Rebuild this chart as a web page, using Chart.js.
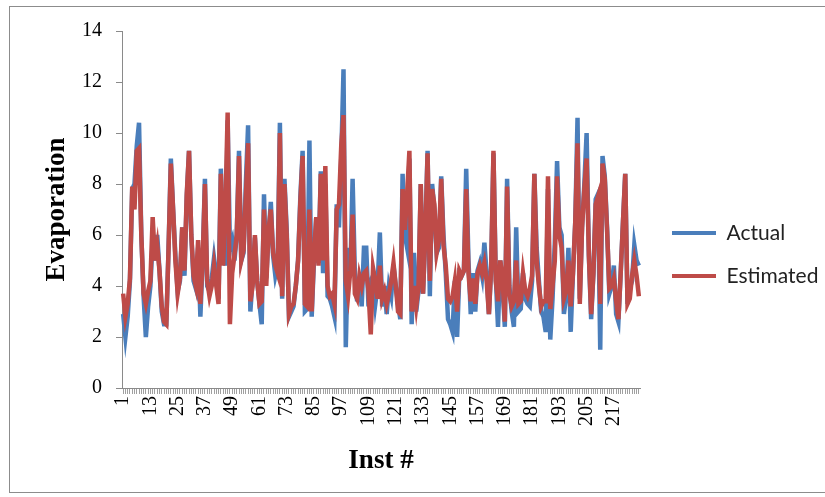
<!DOCTYPE html>
<html>
<head>
<meta charset="utf-8">
<script src="https://cdn.jsdelivr.net/npm/chart.js@4.4.1/dist/chart.umd.min.js"></script>
<style>
  html, body { margin: 0; padding: 0; background: #ffffff; }
  #wrap { position: relative; width: 825px; height: 497px; overflow: hidden; }
  #frame { position: absolute; left: 9px; top: 6px; width: 900px; height: 487px; border: 1.5px solid #8c8c8c; box-sizing: border-box; }
  #c { position: absolute; left: 0; top: 0; }
</style>
</head>
<body>
<div id="wrap">
  <div id="frame"></div>
  <canvas id="c" width="825" height="497"></canvas>
</div>
<script>
// ---- data ----
const seriesNames = ['Actual', 'Estimated'];
const categories = Array.from({ length: 228 }, (_, i) => String(i + 1));
const labelEvery = 12;
const yTicks = [0, 2, 4, 6, 8, 10, 12, 14];

const actual = [
  2.9,2.0,2.8,4.2,7.8,8.0,9.5,10.4,6.0,3.6,
  2.0,3.2,4.0,5.8,5.0,6.0,4.6,3.0,2.5,2.5,
  5.5,9.0,7.0,5.2,3.8,4.2,6.3,4.4,7.5,9.3,
  6.0,4.2,3.9,5.5,2.8,5.0,8.2,4.0,3.8,4.3,
  5.1,4.4,3.5,8.6,6.0,4.8,10.5,5.5,5.8,5.0,
  6.0,9.3,5.0,5.3,8.0,10.3,3.0,4.3,5.9,4.2,
  3.3,2.5,7.6,4.3,6.0,7.3,5.2,4.4,4.8,10.4,
  3.5,8.2,6.2,2.8,3.0,3.2,4.0,5.0,7.5,9.3,
  3.0,3.1,9.7,2.8,5.0,6.7,4.9,8.5,4.5,8.0,
  3.6,3.5,3.2,2.8,7.2,6.3,9.0,12.5,1.6,5.5,
  4.4,8.2,4.5,3.4,4.3,3.2,5.5,5.5,3.2,4.2,
  4.4,3.3,4.0,6.1,3.2,4.0,2.9,4.0,3.6,4.8,
  4.0,3.3,2.7,8.4,6.0,5.5,9.0,2.5,5.3,3.0,
  3.8,8.0,3.7,6.0,9.3,3.6,8.0,7.0,5.3,5.5,
  8.3,6.0,4.5,2.7,2.5,2.2,4.2,2.0,4.5,4.4,
  4.6,8.6,5.0,2.9,4.5,3.0,4.6,4.9,4.4,5.7,
  4.5,2.9,4.7,9.2,4.4,2.4,5.0,4.0,2.4,8.2,
  4.0,3.0,2.4,6.3,3.0,3.1,4.5,3.5,3.3,3.2,
  4.2,8.4,5.5,4.2,3.0,2.8,2.2,7.8,1.9,3.5,
  5.7,8.9,6.3,6.0,2.9,3.6,5.5,2.2,4.5,6.5,
  10.6,3.5,6.3,8.0,10.0,5.2,2.7,4.5,7.4,7.6,
  1.5,9.1,8.3,6.3,3.7,4.0,4.8,2.9,2.6,4.5,
  6.5,8.4,3.3,3.9,4.2,5.6,5.0,4.8
];

const estimated = [
  3.7,2.8,3.3,4.3,7.9,7.0,9.3,9.4,6.0,3.7,
  3.3,3.8,4.2,6.7,5.0,5.6,4.6,3.2,2.6,2.5,
  5.5,8.8,7.0,5.0,3.7,4.3,6.3,4.6,7.6,9.3,
  6.0,4.4,4.0,5.8,3.3,5.0,8.0,4.2,3.6,4.0,
  4.8,4.0,3.3,8.4,4.8,7.0,10.8,2.5,4.5,5.2,
  6.0,9.1,5.0,5.4,7.5,9.6,3.4,4.0,6.0,4.2,
  3.3,3.4,7.0,4.0,6.2,7.0,5.3,4.8,4.5,10.0,
  3.6,8.0,6.0,2.9,3.2,3.3,4.0,5.0,7.3,9.1,
  3.3,3.2,7.0,3.0,5.2,6.7,4.8,8.4,5.0,8.7,
  4.0,3.6,3.7,3.3,7.0,7.2,9.5,10.7,4.2,3.6,
  4.6,6.8,3.7,3.5,4.4,4.0,4.5,4.6,3.8,2.1,
  4.7,4.2,3.5,4.8,3.5,3.8,3.3,3.7,4.2,4.9,
  4.0,3.0,2.9,7.8,6.2,7.6,9.3,3.0,4.0,3.2,
  4.0,8.0,3.7,6.0,9.2,4.2,7.8,7.2,5.3,5.8,
  8.2,5.6,4.8,3.5,3.4,3.6,4.2,3.0,4.6,4.4,
  4.6,7.8,4.5,3.4,4.3,3.3,4.5,4.8,4.5,4.9,
  4.2,2.9,4.8,9.3,4.2,3.4,5.0,4.3,2.6,7.9,
  3.7,3.2,3.4,5.0,3.3,3.4,4.5,3.8,3.6,3.9,
  4.4,8.4,5.0,4.0,3.2,3.4,3.4,8.3,3.1,4.0,
  5.0,8.3,6.0,5.5,3.5,3.8,5.0,3.2,4.5,6.5,
  9.6,3.3,6.3,7.8,9.0,5.2,2.9,4.5,7.2,7.5,
  3.3,8.8,8.2,6.2,3.9,4.0,4.3,3.4,2.7,4.5,
  6.5,8.4,3.3,3.5,4.4,5.0,4.4,3.6
];

const colors = ['#4a7ebb', '#be4b48'];
const axisGrey = '#8a8a8a';

// keep the legend box a fixed width and nudge its items to the right
const legendFit = {
  id: 'legendFit',
  afterInit(chart) {
    const lg = chart.legend;
    if (lg && !lg._fixedFit) {
      const orig = lg.fit.bind(lg);
      lg.fit = function () { orig(); this.width = 185; };
      lg._fixedFit = true;
    }
  },
  afterLayout(chart) {
    if (chart.legend) { chart.legend.left += 10; chart.legend.right += 10; }
  }
};

new Chart(document.getElementById('c'), {
  type: 'line',
  data: {
    labels: categories,
    datasets: [
      { label: seriesNames[0], data: actual, borderColor: colors[0], backgroundColor: colors[0],
        borderWidth: 4.5, pointRadius: 0, tension: 0, order: 2 },
      { label: seriesNames[1], data: estimated, borderColor: colors[1], backgroundColor: colors[1],
        borderWidth: 4.5, pointRadius: 0, tension: 0, order: 1 }
    ]
  },
  options: {
    responsive: false,
    animation: false,
    layout: { padding: { top: 31, left: 0, right: 0, bottom: 19 } },
    plugins: {
      tooltip: { enabled: false },
      legend: {
        position: 'right',
        align: 'center',
        labels: {
          boxWidth: 44,
          boxHeight: 4,
          padding: 22,
          color: '#222222',
          font: { family: 'Lato', size: 21 },
          generateLabels(chart) {
            return chart.data.datasets.map((ds, i) => ({
              text: ds.label, fillStyle: ds.borderColor, strokeStyle: ds.borderColor,
              lineWidth: 0, hidden: false, datasetIndex: i, fontColor: '#222222'
            }));
          }
        }
      }
    },
    scales: {
      x: {
        type: 'category',
        offset: true,
        afterFit(scale) { scale.height = 90; },
        border: { color: axisGrey, width: 1 },
        grid: { display: true, drawOnChartArea: false, drawTicks: true, tickLength: 6, color: '#a0a0a0' },
        ticks: {
          autoSkip: false,
          maxRotation: 90,
          minRotation: 90,
          padding: 2,
          color: '#000000',
          font: { family: 'Liberation Serif', size: 20 },
          callback(value, index) { return index % labelEvery === 0 ? categories[index] : ''; }
        },
        title: {
          display: true,
          text: 'Inst #',
          color: '#000000',
          font: { family: 'Liberation Serif', size: 27, weight: 'bold' },
          padding: { top: 0, bottom: 1 }
        }
      },
      y: {
        min: 0,
        max: 14,
        afterFit(scale) { scale.width = 122; },
        afterBuildTicks(scale) { scale.ticks = yTicks.map(v => ({ value: v })); },
        border: { color: axisGrey, width: 1 },
        grid: { display: true, drawOnChartArea: false, drawTicks: true, tickLength: 6, color: axisGrey },
        ticks: {
          padding: 14,
          color: '#000000',
          font: { family: 'Liberation Serif', size: 20 }
        },
        title: {
          display: true,
          text: 'Evaporation',
          color: '#000000',
          font: { family: 'Liberation Serif', size: 27, weight: 'bold' },
          padding: { top: 41, bottom: 0 }
        }
      }
    }
  },
  plugins: [legendFit]
});
</script>
</body>
</html>
